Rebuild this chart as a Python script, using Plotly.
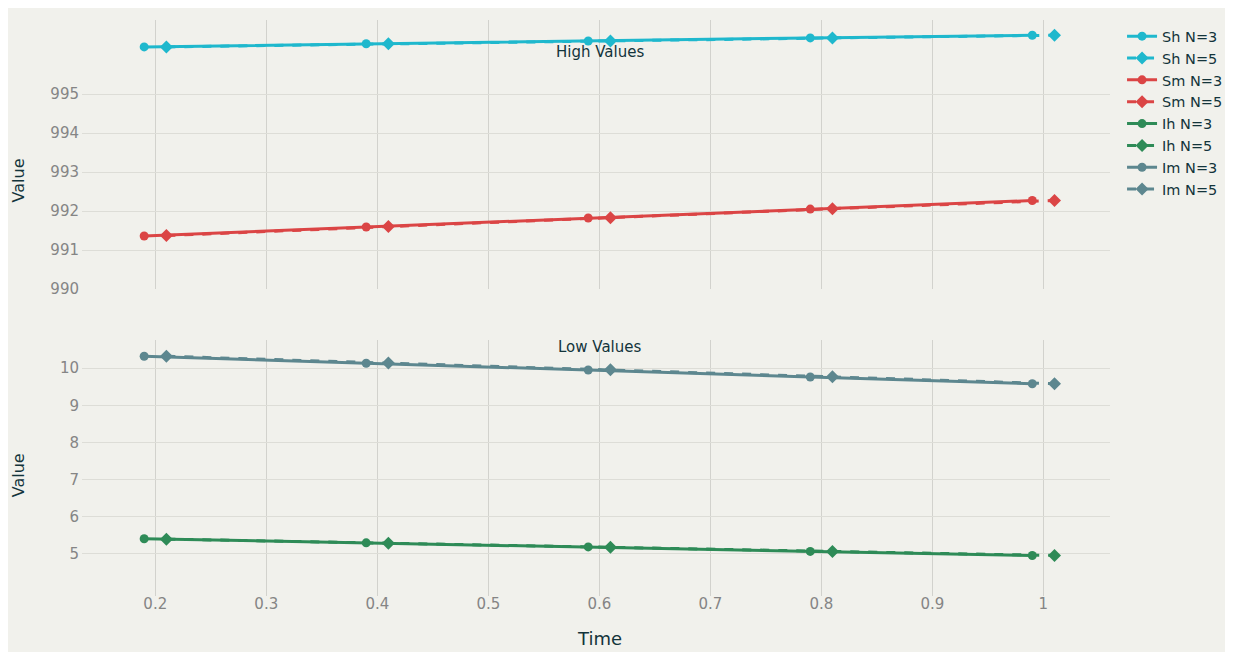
import plotly.graph_objects as go
from plotly.subplots import make_subplots

# ---- data ----
time_n3 = [0.19, 0.39, 0.59, 0.79, 0.99]
time_n5 = [0.21, 0.41, 0.61, 0.81, 1.01]

sh_n3 = [996.21, 996.29, 996.36, 996.44, 996.51]
sh_n5 = [996.21, 996.29, 996.36, 996.44, 996.51]
sm_n3 = [991.36, 991.59, 991.82, 992.05, 992.27]
sm_n5 = [991.37, 991.60, 991.83, 992.06, 992.27]
ih_n3 = [5.41, 5.30, 5.19, 5.07, 4.96]
ih_n5 = [5.40, 5.29, 5.18, 5.07, 4.96]
im_n3 = [10.32, 10.13, 9.95, 9.76, 9.58]
im_n5 = [10.32, 10.14, 9.96, 9.77, 9.58]

x_ticks = [0.2, 0.3, 0.4, 0.5, 0.6, 0.7, 0.8, 0.9, 1.0]
x_ticklabels = ["0.2", "0.3", "0.4", "0.5", "0.6", "0.7", "0.8", "0.9", "1"]
top_ticks = [990, 991, 992, 993, 994, 995]
bottom_ticks = [5, 6, 7, 8, 9, 10]

COLORS = {"Sh": "#1FB8CD", "Sm": "#DB4545", "Ih": "#2E8B57", "Im": "#5D878F"}
BG = "#F1F1EC"
DARK = "#13343B"
FONT = "DejaVu Sans"

fig = make_subplots(rows=2, cols=1, shared_xaxes=True)

series = [
    ("Sh", sh_n3, sh_n5, 1),
    ("Sm", sm_n3, sm_n5, 1),
    ("Ih", ih_n3, ih_n5, 2),
    ("Im", im_n3, im_n5, 2),
]
for name, v3, v5, row in series:
    c = COLORS[name]
    fig.add_trace(go.Scatter(x=time_n3, y=v3, mode="lines+markers", name=f"{name} N=3",
                             line=dict(color=c, width=3),
                             marker=dict(symbol="circle", size=9, color=c)), row=row, col=1)
    fig.add_trace(go.Scatter(x=time_n5, y=v5, mode="lines+markers", name=f"{name} N=5",
                             line=dict(color=c, width=3, dash="dash"),
                             marker=dict(symbol="diamond", size=10, color=c)), row=row, col=1)

grid_y = "#DDDDD7"
grid_x = "#D2D2CD"
tickfont = dict(family=FONT, size=15, color="#858585")

fig.update_xaxes(range=[0.134, 1.06], tickvals=x_ticks, ticktext=x_ticklabels,
                 showgrid=True, gridcolor=grid_x, gridwidth=1, zeroline=False,
                 showline=False, tickfont=tickfont, ticks="", automargin=False,
                 ticklabelstandoff=-3)
fig.update_xaxes(showticklabels=False, row=1, col=1)

fig.update_yaxes(showgrid=True, gridcolor=grid_y, gridwidth=1, zeroline=False,
                 showline=False, tickfont=tickfont, ticks="", automargin=False,
                 ticklabelstandoff=2)
fig.update_yaxes(range=[990, 996.9], tickvals=top_ticks, domain=[0.533, 1.0], row=1, col=1)
fig.update_yaxes(range=[3.87, 10.75], tickvals=bottom_ticks, domain=[0.0, 0.444], row=2, col=1)

annotations = [
    dict(text="High Values", x=0.504, y=0.944, xref="paper", yref="paper", showarrow=False,
         xanchor="center", yanchor="middle", font=dict(family=FONT, size=15, color=DARK)),
    dict(text="Low Values", x=0.503, y=0.432, xref="paper", yref="paper", showarrow=False,
         xanchor="center", yanchor="middle", font=dict(family=FONT, size=15, color=DARK)),
    dict(text="Value", x=-0.062, y=0.722, xref="paper", yref="paper", showarrow=False,
         textangle=-90, xanchor="center", yanchor="middle", font=dict(family=FONT, size=16, color=DARK)),
    dict(text="Value", x=-0.062, y=0.21, xref="paper", yref="paper", showarrow=False,
         textangle=-90, xanchor="center", yanchor="middle", font=dict(family=FONT, size=16, color=DARK)),
    dict(text="Time", x=0.503, y=-0.073, xref="paper", yref="paper", showarrow=False,
         xanchor="center", yanchor="middle", font=dict(family=FONT, size=18, color=DARK)),
]

fig.update_layout(
    width=1217, height=644,
    margin=dict(l=74, r=115, t=12, b=56, autoexpand=False),
    paper_bgcolor=BG,
    plot_bgcolor=BG,
    font=dict(family=FONT, size=15, color=DARK),
    annotations=annotations,
    showlegend=True,
    legend=dict(xref="container", yref="container", x=0.9154, y=0.981,
                xanchor="left", yanchor="top", bgcolor="rgba(0,0,0,0)",
                font=dict(family=FONT, size=14.5, color=DARK), tracegroupgap=0),
)

fig.write_html("out.html")
